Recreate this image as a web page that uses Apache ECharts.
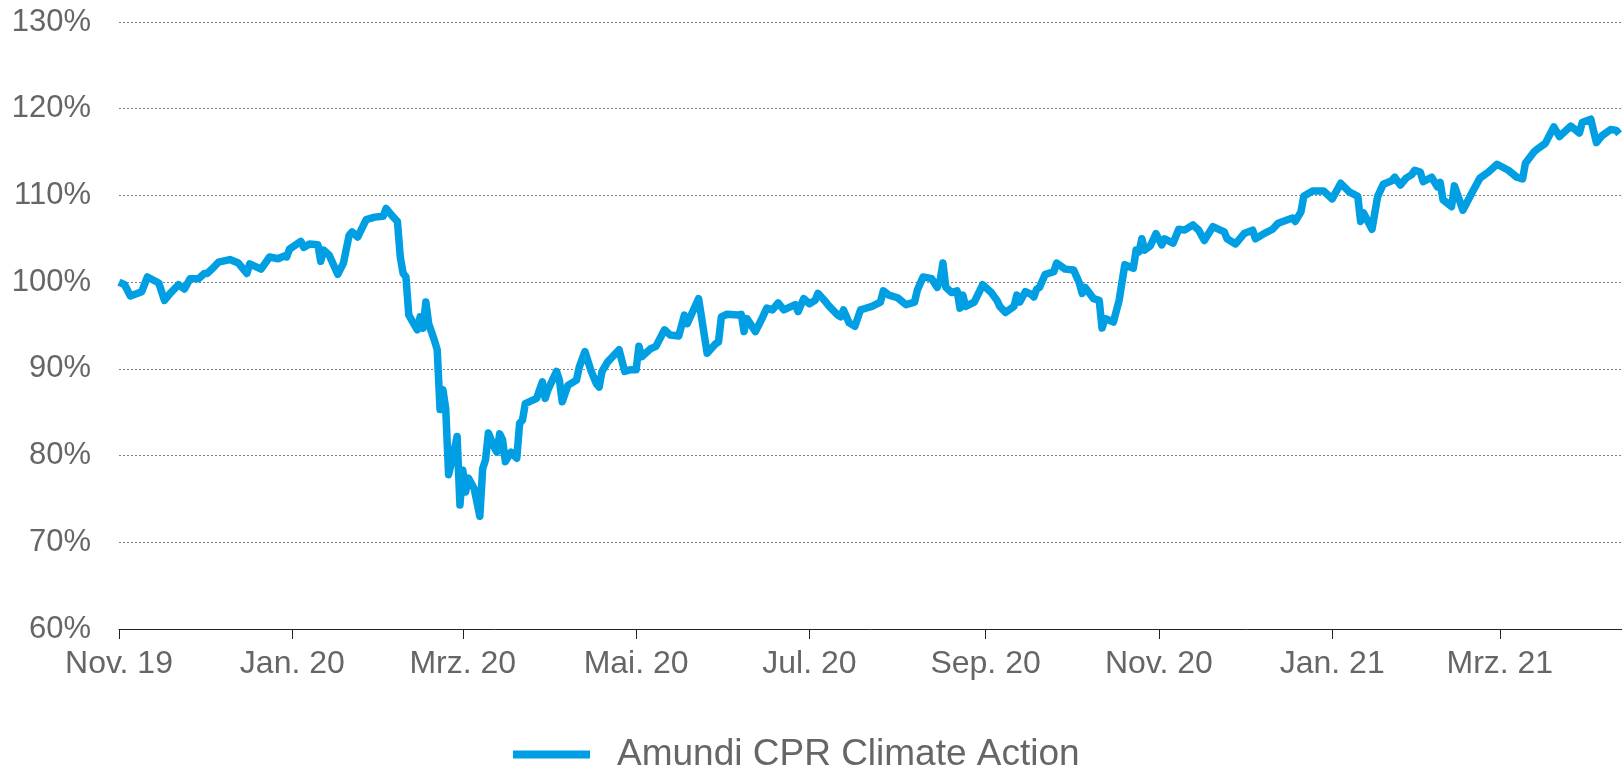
<!DOCTYPE html>
<html>
<head>
<meta charset="utf-8">
<title>Amundi CPR Climate Action</title>
<script src="https://cdn.jsdelivr.net/npm/echarts@6/dist/echarts.min.js"></script>
<style>
  html, body { margin: 0; padding: 0; background: #fff; }
  #chart { width: 1622px; height: 767px; }
</style>
</head>
<body>
<div id="chart"></div>
<script>
// Wertentwicklung, Tage ab 01.11.2019
const startDate = '2019-11-01';
const endOffset = 529;
const seriesName = 'Amundi CPR Climate Action';

const dayOffsets = [
  0, 2, 4, 8, 10, 14, 16, 18, 21, 23, 25, 28, 30, 31, 33, 35, 39, 42, 45, 46,
  50, 53, 56, 58, 59, 60, 64, 65, 67, 70, 71, 72, 74, 77, 79, 81, 82, 84,
  87, 90, 93, 94, 96, 98, 99, 100, 101, 102, 105, 106, 107, 108, 109, 111, 112, 113,
  114, 115, 116, 118, 119, 120, 121, 122, 123, 125, 127, 128, 129, 130, 132, 133, 134, 135,
  136, 138, 140, 141, 142, 143, 147, 149, 150, 151, 154, 155, 156, 158, 161, 162, 164, 166,
  168, 169, 170, 172, 176, 178, 180, 182, 183, 184, 187, 189, 192, 194, 197, 199, 200, 204,
  207, 210, 211, 212, 214, 218, 219, 220, 221, 224, 226, 228, 230, 232, 234, 238, 239, 241,
  243, 245, 246, 248, 250, 253, 254, 255, 257, 259,
  261, 262, 265, 268, 269, 271, 274, 277, 280, 281, 283, 286, 288, 289, 290, 291, 293, 295,
  296, 297, 298, 301, 304, 307, 309, 310, 312, 315, 316, 317, 319, 321, 322, 323, 324, 326,
  329, 330, 333, 336, 338, 339, 340, 343, 345, 346, 347, 350, 352, 354, 357, 358, 359, 360,
  361, 363, 365, 367, 368, 371, 373, 375, 378, 380, 382, 385, 389, 390, 393, 396, 399, 400,
  403, 406, 408, 413, 414, 416, 417, 420, 424, 427, 430, 433, 436, 437, 438, 441, 443, 445,
  448, 449, 451, 453, 455, 456, 458, 459, 462, 464, 465, 466, 469, 470, 471, 473, 476, 479,
  482, 485, 489, 492, 494, 495, 498, 499, 502, 505, 507, 511, 514, 515, 518, 520, 522, 525,
  527, 528
];

const fundValues = [
  100.0, 99.7, 98.4, 98.9, 100.6, 99.9, 97.9, 98.7, 99.7, 99.2, 100.4, 100.4, 101.0, 101.0, 101.6, 102.3, 102.6, 102.2, 101.0, 102.1,
  101.5, 102.9, 102.7, 103.0, 102.9, 103.8, 104.7, 104.0, 104.4, 104.3, 102.4, 103.7, 103.1, 100.9, 102.2, 105.4, 105.8, 105.2,
  107.2, 107.5, 107.6, 108.5, 107.7, 107.0, 102.9, 101.0, 100.6, 96.2, 94.5, 96.0, 94.7, 97.7, 95.2, 93.3, 92.2, 85.3,
  87.6, 85.4, 77.8, 80.6, 82.2, 74.3, 78.3, 75.8, 77.4, 76.2, 73.0, 78.5, 79.5, 82.6, 81.0, 80.4, 82.5, 81.8,
  79.3, 80.4, 79.7, 83.7, 84.1, 86.0, 86.6, 88.5, 86.6, 87.6, 89.7, 88.7, 86.2, 88.1, 88.7, 90.2, 92.0, 89.9,
  88.3, 87.9, 89.7, 90.8, 92.2, 89.7, 89.9, 89.9, 92.6, 91.4, 92.3, 92.6, 94.5, 93.9, 93.8, 96.2, 95.2, 98.1,
  91.8, 92.9, 93.1, 96.0, 96.3, 96.2, 96.3, 94.3, 95.8, 94.3, 95.6, 97.0, 96.8, 97.6, 96.8, 97.4, 96.6, 98.1,
  97.5, 97.9, 98.7, 98.0, 97.2, 96.2, 96.0, 96.8, 95.3, 94.9,
  96.8, 96.9, 97.2, 97.7, 99.0, 98.5, 98.2, 97.4, 97.7, 99.1, 100.6, 100.4, 99.4, 100.2, 102.2, 99.4, 98.8, 99.0,
  97.0, 98.5, 97.2, 97.7, 99.7, 98.8, 97.9, 97.2, 96.5, 97.2, 98.5, 97.7, 98.9, 98.6, 98.3, 99.2, 99.4, 100.9,
  101.2, 102.2, 101.5, 101.4, 99.9, 98.7, 99.4, 98.1, 97.9, 94.7, 95.8, 95.4, 97.9, 102.0, 101.6, 103.7, 103.5, 105.0,
  103.7, 104.2, 105.6, 104.3, 105.0, 104.5, 106.1, 106.0, 106.6, 106.0, 104.8, 106.4, 105.8, 105.0, 104.4, 105.6, 106.0, 105.0,
  105.6, 106.1, 106.8, 107.4, 107.0, 108.1, 109.9, 110.5, 110.5, 109.6, 111.4, 110.4, 109.9, 107.0, 108.0, 106.1, 109.9, 111.3,
  111.7, 112.1, 111.2, 112.0, 112.4, 112.9, 112.7, 111.6, 112.1, 111.0, 111.5, 109.5, 108.7, 111.1, 110.2, 108.3, 110.2, 112.0,
  112.7, 113.6, 112.9, 112.1, 111.9, 113.7, 115.0, 115.3, 116.0, 117.9, 116.8, 118.0, 117.2, 118.4, 118.8, 116.1, 116.9, 117.6,
  117.5, 117.1
];

// Achsenbeschriftung
const tickDates = ['2019-11-01', '2020-01-01', '2020-03-01', '2020-05-01', '2020-07-01',
  '2020-09-01', '2020-11-01', '2021-01-01', '2021-03-01'];
const tickLabels = ['Nov. 19', 'Jan. 20', 'Mrz. 20', 'Mai. 20', 'Jul. 20',
  'Sep. 20', 'Nov. 20', 'Jan. 21', 'Mrz. 21'];
const yTicks = [60, 70, 80, 90, 100, 110, 120, 130];

const DAY = 86400000;
const toTime = s => Date.parse(s + 'T00:00:00Z');
const t0 = toTime(startDate);
const tickTimes = tickDates.map(toTime);

const seriesData = dayOffsets.map((d, i) => [t0 + d * DAY, fundValues[i]]);

const textColor = '#666666';
const fontFamily = '"Liberation Sans", Arial, sans-serif';

const chart = echarts.init(document.getElementById('chart'), null, { renderer: 'canvas' });
const option = {
  animation: false,
  textStyle: { fontFamily: fontFamily },
  grid: { left: 119, right: 0, top: 22, bottom: 138, containLabel: false },
  legend: {
    data: [seriesName],
    left: 508,
    top: 731,
    icon: 'rect',
    itemWidth: 77,
    itemHeight: 8,
    textStyle: { fontSize: 37, color: textColor, fontFamily: fontFamily, padding: [0, 0, 0, 22] }
  },
  xAxis: {
    type: 'value',
    min: t0,
    max: t0 + endOffset * DAY,
    scale: true,
    axisLine: { show: true, onZero: false, lineStyle: { color: '#222', width: 1 } },
    axisTick: { show: true, length: 10, lineStyle: { color: '#222' }, customValues: tickTimes },
    axisLabel: {
      customValues: tickTimes,
      fontSize: 32,
      color: textColor,
      margin: 19,
      fontFamily: fontFamily,
      formatter: v => {
        const i = tickTimes.indexOf(v);
        return i >= 0 ? tickLabels[i] : '';
      }
    },
    splitLine: { show: false }
  },
  yAxis: {
    type: 'value',
    min: yTicks[0],
    max: yTicks[yTicks.length - 1],
    interval: 10,
    axisLine: { show: false },
    axisTick: { show: false },
    axisLabel: { formatter: '{value}%', fontSize: 31, color: textColor, margin: 28, fontFamily: fontFamily },
    splitLine: { show: true, lineStyle: { color: '#808080', width: 1, type: [2, 2] } }
  },
  series: [
    {
      name: seriesName,
      type: 'line',
      data: seriesData,
      showSymbol: false,
      symbol: 'none',
      color: '#009fe3',
      lineStyle: { color: '#009fe3', width: 7.5, join: 'round' },
      z: 3
    }
  ]
};
chart.setOption(option);
</script>
</body>
</html>
